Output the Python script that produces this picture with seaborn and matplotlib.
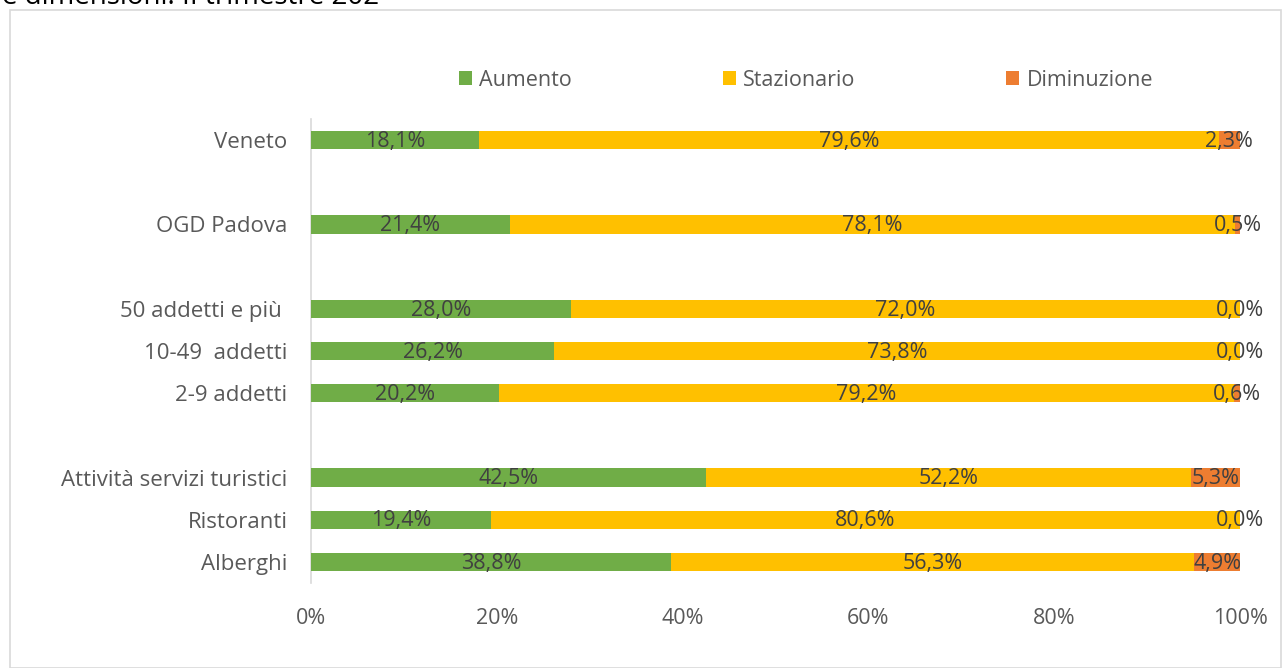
import matplotlib
matplotlib.use("Agg")
import matplotlib.pyplot as plt
import matplotlib.patches as mpatches
import seaborn as sns
import pandas as pd
import numpy as np

categories = ["Veneto", "OGD Padova", "50 addetti e più ", "10-49  addetti", "2-9 addetti",
              "Attività servizi turistici", "Ristoranti", "Alberghi"]
aumento = [18.1, 21.4, 28.0, 26.2, 20.2, 42.5, 19.4, 38.8]
stazionario = [79.6, 78.1, 72.0, 73.8, 79.2, 52.2, 80.6, 56.3]
diminuzione = [2.3, 0.5, 0.0, 0.0, 0.6, 5.3, 0.0, 4.9]
series_names = ["Aumento", "Stazionario", "Diminuzione"]
colors = ["#70AD47", "#FFC000", "#ED7D31"]
x_ticks = [0, 20, 40, 60, 80, 100]
x_tick_labels = ["0%", "20%", "40%", "60%", "80%", "100%"]

# slot order including spacer rows
order = ["Veneto", " ", "OGD Padova", "  ", "50 addetti e più ", "10-49  addetti", "2-9 addetti",
         "   ", "Attività servizi turistici", "Ristoranti", "Alberghi"]

sns.set_theme(style="white")
plt.rcParams["font.family"] = ["Open Sans", "DejaVu Sans"]

df = pd.DataFrame({"cat": categories, "a": aumento, "s": stazionario, "d": diminuzione})
df["c1"] = df["a"]
df["c2"] = df["a"] + df["s"]
df["c3"] = df["a"] + df["s"] + df["d"]

fig = plt.figure(figsize=(12.82, 6.68), dpi=100)
ax = fig.add_axes([311 / 1282, 1 - 583 / 668, (1240 - 311) / 1282, (583 - 119) / 668])

# chart border
fig.patches.append(mpatches.Rectangle((10 / 1282, 0), 1 - 10 / 1282 - 0.001, 1 - 10 / 668,
                                      transform=fig.transFigure, fill=False,
                                      edgecolor="#D9D9D9", linewidth=1.2))
fig.text(2 / 1282, 1 - 3.5 / 668, "e dimensioni. II trimestre 202", fontsize=20, color="#000000",
         va="baseline", ha="left")

for col, color in zip(["c3", "c2", "c1"], colors[::-1]):
    sns.barplot(data=df, y="cat", x=col, order=order, color=color, orient="h",
                width=0.43, saturation=1, ax=ax, linewidth=0)

ax.set_xlim(0, 100)
ax.set_ylim(len(order) - 0.5, -0.5)
ax.set_xticks(x_ticks)
ax.set_xticklabels(x_tick_labels, fontsize=15.5, color="#595959")
ax.set_yticks(range(len(order)))
ax.set_yticklabels(order, fontsize=16, color="#595959")
ax.tick_params(axis="x", length=0, pad=18)
ax.tick_params(axis="y", length=0, pad=17)
ax.set_xlabel("")
ax.set_ylabel("")
for s in ["top", "right", "bottom"]:
    ax.spines[s].set_visible(False)
ax.spines["left"].set_color("#D9D9D9")
ax.spines["left"].set_linewidth(1.2)
ax.spines["left"].set_zorder(0)

def fmt(v):
    return f"{v:.1f}%".replace(".", ",")

for _, r in df.iterrows():
    yi = order.index(r["cat"])
    starts = [0, r["a"], r["a"] + r["s"]]
    vals = [r["a"], r["s"], r["d"]]
    for st, v in zip(starts, vals):
        ax.text(st + v / 2, yi + 0.03, fmt(v), ha="center", va="center", fontsize=15.5, color="#404040")

handles = [mpatches.Patch(facecolor=c, edgecolor="none", label=n) for c, n in zip(colors, series_names)]
fig.legend(handles=handles, loc="center", bbox_to_anchor=(806 / 1282, 1 - 80 / 668), ncol=3,
           frameon=False, fontsize=15.5, handlelength=0.6, handleheight=0.6, handletextpad=0.35,
           columnspacing=7.0, labelcolor="#595959")

fig.savefig("out.png", dpi=100)
